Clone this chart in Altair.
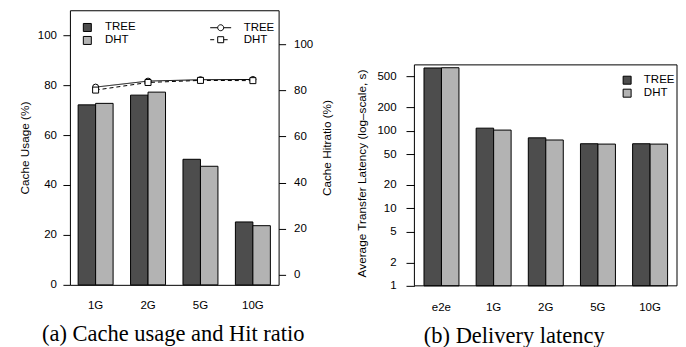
import altair as alt
import pandas as pd

# ---------------- data ----------------
schemes = ["TREE", "DHT"]

sizes = ["1G", "2G", "5G", "10G"]
usage_tree = [72.1, 76.0, 50.3, 25.2]
usage_dht = [72.7, 77.2, 47.5, 23.7]
hit_tree = [81.4, 84.0, 84.6, 84.7]
hit_dht = [80.1, 83.4, 84.3, 84.2]

lat_cats = ["e2e", "1G", "2G", "5G", "10G"]
lat_tree = [645, 108, 81, 68, 68]
lat_dht = [650, 102, 76, 67.3, 67.3]

usage_ticks = [0, 20, 40, 60, 80, 100]
hit_ticks = [0, 20, 40, 60, 80, 100]
lat_ticks = [1, 2, 5, 10, 20, 50, 100, 200, 500]

DARK = "#4d4d4d"
LIGHT = "#b3b3b3"
SANS = "Liberation Sans"
SERIF = "Liberation Serif"
FS = 11.5
TFS = 11.8

df_usage = pd.DataFrame({
    "size": sizes * 2,
    "scheme": ["TREE"] * 4 + ["DHT"] * 4,
    "usage": usage_tree + usage_dht,
})
df_hit = pd.DataFrame({
    "size": sizes * 2,
    "method": ["TREE"] * 4 + ["DHT"] * 4,
    "hit": hit_tree + hit_dht,
})
df_lat = pd.DataFrame({
    "cat": lat_cats * 2,
    "scheme": ["TREE"] * 5 + ["DHT"] * 5,
    "lat": lat_tree + lat_dht,
    "base": [1] * 10,
})
df_frame = pd.DataFrame({"lo": [1], "hi": [707]})

# legend symbols (line + marker) as custom paths
TREE_SYM = ("M-1.909,0H-0.545M0.545,0H1.909"
            "M-0.545,0A0.545,0.545,0,1,1,0.545,0A0.545,0.545,0,1,1,-0.545,0Z")
DHT_SYM = ("M-1.909,0H-1.18M0.545,0H1.27"
           "M-0.545,-0.545H0.545V0.545H-0.545Z")
sym_expr = "datum.value == 'TREE' ? '%s' : '%s'" % (TREE_SYM, DHT_SYM)

W1, H1 = 209, 275
W2, H2 = 263, 276

# ---------------- panel (a) ----------------
x1 = alt.X(
    "size:N", sort=sizes,
    scale=alt.Scale(paddingInner=0.333, paddingOuter=0.157),
    axis=alt.Axis(title=None, labelAngle=0, ticks=False, domain=False,
                  labelPadding=15, labelFont=SANS, labelFontSize=FS,
                  labelColor="black"),
)

bars1 = alt.Chart(df_usage).mark_bar(stroke="black", strokeWidth=1).encode(
    x=x1,
    xOffset=alt.XOffset("scheme:N", sort=schemes,
                        scale=alt.Scale(paddingInner=0, paddingOuter=0)),
    y=alt.Y("usage:Q",
            scale=alt.Scale(domain=[0, 110], nice=False, zero=False),
            axis=alt.Axis(values=usage_ticks, title="Cache Usage (%)",
                          grid=False, domain=False, tickSize=7,
                          tickColor="black", labelPadding=6.5,
                          labelFont=SANS, labelFontSize=FS, labelColor="black",
                          titleFont=SANS, titleFontSize=TFS,
                          titleFontWeight="normal", titleColor="black",
                          titlePadding=7)),
    fill=alt.Fill("scheme:N", sort=schemes,
                  scale=alt.Scale(domain=schemes, range=[DARK, LIGHT]),
                  legend=alt.Legend(title=None, orient="none",
                                    legendX=11.7, legendY=11.5,
                                    symbolType="square", symbolSize=64,
                                    symbolStrokeColor="black",
                                    symbolStrokeWidth=1, labelOffset=12,
                                    rowPadding=0, padding=0,
                                    labelFont=SANS, labelFontSize=FS,
                                    labelColor="black")),
)

y_hit = alt.Y("hit:Q",
              scale=alt.Scale(domain=[-4.3, 114.7], nice=False, zero=False),
              axis=alt.Axis(orient="right", values=hit_ticks,
                            title="Cache Hitratio (%)", grid=False,
                            domain=False, tickSize=7, tickColor="black",
                            labelPadding=8, labelFont=SANS, labelFontSize=FS,
                            labelColor="black", titleFont=SANS,
                            titleFontSize=TFS, titleFontWeight="normal",
                            titleColor="black", titleAngle=270,
                            titlePadding=20))

lines1 = alt.Chart(df_hit).mark_line(strokeWidth=1).encode(
    x=x1,
    y=y_hit,
    strokeDash=alt.StrokeDash("method:N", sort=schemes,
                              scale=alt.Scale(range=[[1, 0], [4, 3]]),
                              legend=None),
    color=alt.Color("method:N", sort=schemes,
                    scale=alt.Scale(range=["black", "black"]),
                    legend=alt.Legend(title=None, orient="none",
                                      legendX=145, legendY=11.5,
                                      symbolType={"expr": sym_expr},
                                      symbolSize=121, symbolStrokeWidth=1,
                                      symbolFillColor="white",
                                      labelOffset=17, rowPadding=0,
                                      padding=0, labelFont=SANS,
                                      labelFontSize=FS, labelColor="black")),
)

points1 = alt.Chart(df_hit).mark_point(filled=True, fill="white",
                                       stroke="black", strokeWidth=1,
                                       size=36, opacity=1).encode(
    x=x1,
    y=alt.Y("hit:Q"),
    shape=alt.Shape("method:N", sort=schemes,
                    scale=alt.Scale(range=["circle", "square"]),
                    legend=None),
)

hit_layer = alt.layer(lines1, points1)

panel_a = alt.layer(bars1, hit_layer).resolve_scale(
    y="independent"
).properties(
    width=W1, height=H1,
    view=alt.ViewBackground(stroke="black", strokeWidth=1),
    title=alt.TitleParams("(a) Cache usage and Hit ratio", orient="bottom",
                          font=SERIF, fontSize=22.5, fontWeight="normal",
                          color="black", frame="group", anchor="middle",
                          offset=11.5, dx=-1),
)

# ---------------- panel (b) ----------------
x2 = alt.X(
    "cat:N", sort=lat_cats,
    scale=alt.Scale(paddingInner=0.333, paddingOuter=0.184),
    axis=alt.Axis(title=None, labelAngle=0, ticks=False, domain=False,
                  labelPadding=16, labelFont=SANS, labelFontSize=FS,
                  labelColor="black"),
)
y2_scale = alt.Scale(type="log", domain=[1, 3581], nice=False)

bars2 = alt.Chart(df_lat).mark_bar(stroke="black", strokeWidth=1).encode(
    x=x2,
    xOffset=alt.XOffset("scheme:N", sort=schemes,
                        scale=alt.Scale(paddingInner=0, paddingOuter=0)),
    y=alt.Y("lat:Q", scale=y2_scale,
            axis=alt.Axis(values=lat_ticks, format="d",
                          title="Average Transfer Latency (log\u2013scale, s)",
                          grid=False, domain=False, tickSize=8.4,
                          tickColor="black", labelPadding=10,
                          labelFont=SANS, labelFontSize=FS, labelColor="black",
                          titleFont=SANS, titleFontSize=TFS,
                          titleFontWeight="normal", titleColor="black",
                          titlePadding=9, titleY=163)),
    y2="base:Q",
    fill=alt.Fill("scheme:N", sort=schemes,
                  scale=alt.Scale(domain=schemes, range=[DARK, LIGHT]),
                  legend=alt.Legend(title=None, orient="none",
                                    legendX=207.3, legendY=64.3,
                                    symbolType="square", symbolSize=64,
                                    symbolStrokeColor="black",
                                    symbolStrokeWidth=1, labelOffset=11,
                                    rowPadding=0, padding=0,
                                    labelFont=SANS, labelFontSize=FS,
                                    labelColor="black")),
)

frame2 = alt.Chart(df_frame).mark_rect(fill=None, stroke="black",
                                       strokeWidth=1).encode(
    x=alt.value(0), x2=alt.value(W2),
    y=alt.Y("lo:Q", scale=y2_scale), y2="hi:Q",
)

panel_b = alt.layer(bars2, frame2).properties(
    width=W2, height=H2,
    view=alt.ViewBackground(stroke=None),
    title=alt.TitleParams("(b) Delivery latency", orient="bottom",
                          font=SERIF, fontSize=22.5, fontWeight="normal",
                          color="black", frame="group", anchor="middle",
                          offset=11.5, dx=-31.5),
)

chart = alt.hconcat(panel_a, panel_b, spacing=22).resolve_scale(
    fill="independent"
).resolve_legend(fill="independent").properties(
    padding={"left": 10, "top": 1, "right": 0, "bottom": 5}
).configure(background="white")

chart.save("out.html", embed_options={"renderer": "svg", "actions": False})
